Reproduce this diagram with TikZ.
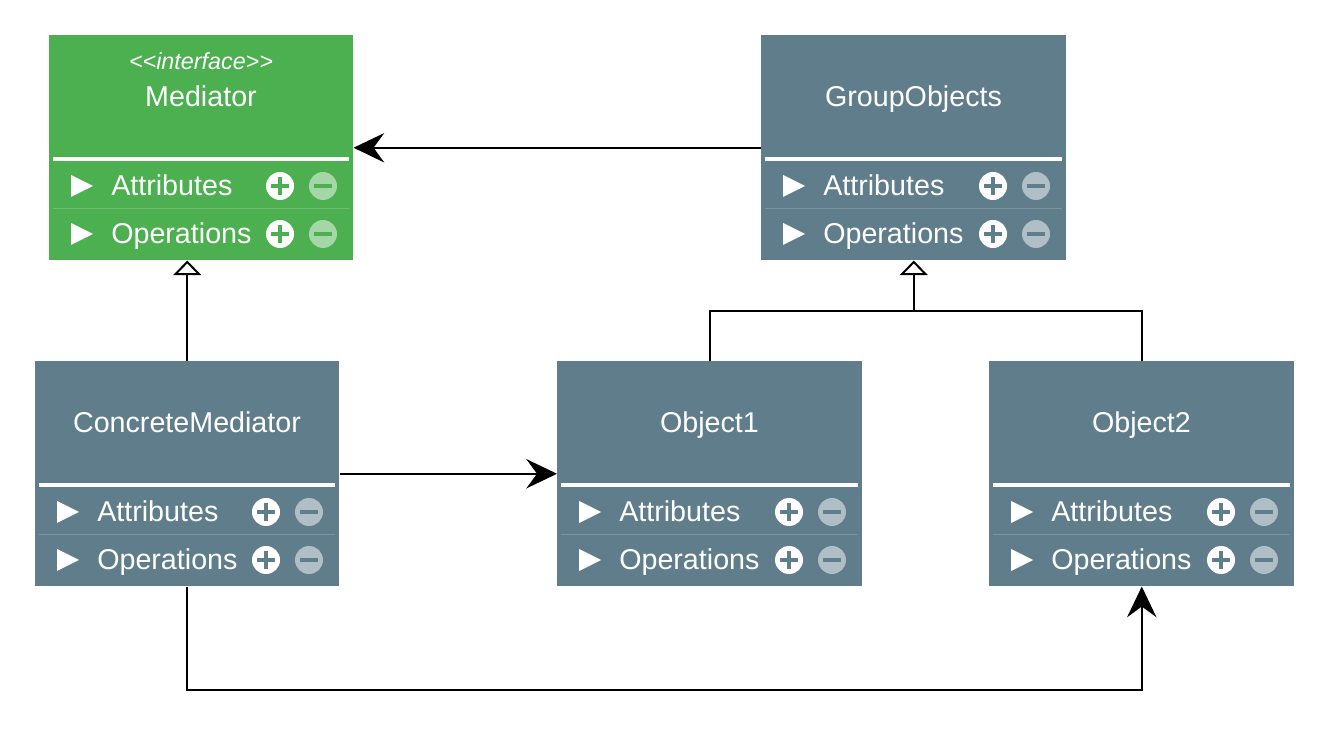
\documentclass[tikz,border=0pt]{standalone}
\usepackage{fontspec}
\setmainfont{Liberation Sans}
\usetikzlibrary{arrows.meta}

\definecolor{medgreen}{HTML}{4CAF50}
\definecolor{medpale}{HTML}{A5D6A7}
\definecolor{medrule}{HTML}{6DBD70}
\definecolor{objgrey}{HTML}{607D8B}
\definecolor{objpale}{HTML}{B0BEC5}
\definecolor{objrule}{HTML}{7B949F}

\tikzset{
	classbox/.style={draw=none, inner sep=0pt, anchor=north west,
		minimum width=#1*0.75pt, minimum height=168.75pt},
	titletext/.style={anchor=base, inner sep=0pt, text=white, font=\fontsize{21.5}{26}\selectfont},
	stereotext/.style={anchor=base, inner sep=0pt, text=white, font=\fontsize{17.5}{21}\selectfont\itshape},
	rowtext/.style={anchor=base west, inner sep=0pt, text=white, font=\fontsize{21.5}{26}\selectfont},
	link/.style={line width=1.5pt, black},
	assoc/.style={link, -{Stealth[length=23pt, width=22pt, inset=8pt]}},
	realize/.style={link, -{Triangle[open, length=11pt, width=21pt, fill=white]}},
}

% #1 name, #2 x, #3 y, #4 width, #5 title, #6 fill, #7 pale, #8 rule
\newcommand{\umlclass}[8]{%
	\begin{scope}[shift={(#2,#3)}]
		\node[classbox=#4, fill=#6] (#1) at (0,0) {};
		\node[titletext] at (#4/2,72) {#5};
		\draw[white, line width=3pt] (4,124) -- (#4-4,124);
		\draw[#8, line width=0.75pt] (4,174) -- (#4-4,174);
		\foreach \ty/\txt in {151/Attributes, 199/Operations} {
			\fill[white] (22,\ty-11) -- (44,\ty) -- (22,\ty+11) -- cycle;
			\node[rowtext] at (62,\ty+10) {\txt};
			% plus button
			\fill[white] (#4-73,\ty) circle[radius=14];
			\draw[#6, line width=3.2pt] (#4-82,\ty) -- (#4-64,\ty)
				(#4-73,\ty-9) -- (#4-73,\ty+9);
			% minus button
			\fill[#7] (#4-30,\ty) circle[radius=14];
			\draw[#6, line width=3.2pt] (#4-39,\ty) -- (#4-21,\ty);
		}
	\end{scope}
}

\begin{document}
\begin{tikzpicture}[x=0.75pt, y=-0.75pt]
	\useasboundingbox (0,0) rectangle (1329,730);

	\umlclass{med}{49}{35}{304}{Mediator}{medgreen}{medpale}{medrule}
	\node[stereotext] at (201,70) {<{}<interface>{}>};
	\umlclass{grp}{761}{35}{305}{GroupObjects}{objgrey}{objpale}{objrule}
	\umlclass{cmed}{35}{361}{304}{ConcreteMediator}{objgrey}{objpale}{objrule}
	\umlclass{obj1}{557}{361}{305}{Object1}{objgrey}{objpale}{objrule}
	\umlclass{obj2}{989}{361}{305}{Object2}{objgrey}{objpale}{objrule}

	% connectors
	\draw[assoc] (grp.west) -- (med.east);
	\draw[realize] (cmed.north) -- (cmed.north |- med.south);
	\path (grp.south) ++(0,50) coordinate (fork);
	\draw[realize] (obj1.north) |- (fork) -- (grp.south);
	\draw[link] (obj2.north) |- (fork);
	\draw[assoc] (cmed.east) -- (obj1.west);
	\draw[assoc] (cmed.south) -- ++(0,103) -| (obj2.south);
\end{tikzpicture}
\end{document}
